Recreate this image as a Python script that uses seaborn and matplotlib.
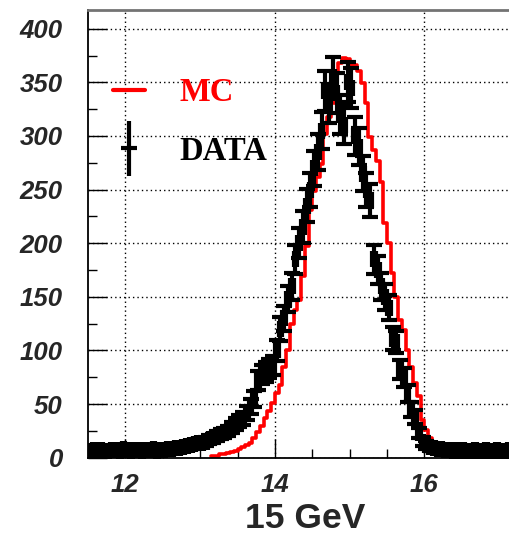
import numpy as np
import pandas as pd
import seaborn as sns
import matplotlib.pyplot as plt
from matplotlib.lines import Line2D
from matplotlib.container import ErrorbarContainer
from matplotlib.legend_handler import HandlerErrorbar
from matplotlib.ticker import MultipleLocator

# binning (GeV)
bin_width = 0.05
data_start = 11.5
mc_start = 13.15

# DATA counts, one per 0.05 GeV bin starting at 11.5
data_counts = [
    6, 7, 6, 7, 6, 6, 7, 7, 6, 8, 7, 6, 7, 7, 6, 7, 7, 8, 6, 7,
    7, 8, 8, 9, 9, 10, 11, 12, 13, 14,
    14, 15, 17, 18, 20, 22, 23, 25, 28, 31,
    34, 37, 42, 48, 55, 72, 78, 80, 83, 86,
    100, 120, 130, 148, 160, 185, 200, 215, 235, 250,
    270, 285, 305, 342, 330, 355, 340, 320, 310, 350,
    345, 300, 290, 265, 250, 240, 185, 175, 160, 150,
    140, 111, 108, 82, 75, 60, 45, 38, 23, 15,
    12, 10, 9, 8, 8, 7, 7, 6, 7, 6,
    7, 6, 6, 7, 6, 6, 7, 6, 6, 7,
    6, 6, 7, 6, 6, 6, 7, 6, 6, 6,
]

# MC counts, one per 0.05 GeV bin starting at 13.15
mc_counts = [
    2, 2, 3, 3, 4, 5, 6, 8, 10, 12,
    14, 18, 24, 30, 37, 44, 51, 60, 68, 85,
    100, 125, 138, 147, 169, 197, 231, 249, 262, 274,
    302, 318, 331, 361, 368, 373, 372, 366, 366, 361,
    349, 331, 299, 287, 277, 257, 219, 200, 172, 150,
    128, 119, 100, 85, 70, 58, 35, 26, 18, 15,
    12, 10, 8, 7, 6, 6, 5, 5, 5, 5,
    5, 4, 4, 4, 4, 4, 4, 4, 3, 3, 3, 3, 3, 3, 3, 3, 3,
]

xlabel = "15 GeV"
labels = ["MC", "DATA"]

data_counts = np.array(data_counts, dtype=float)
mc_counts = np.array(mc_counts, dtype=float)
data_x = data_start + bin_width * (np.arange(len(data_counts)) + 0.5)
mc_x = mc_start + bin_width * (np.arange(len(mc_counts)) + 0.5)
mc = pd.DataFrame({"energy": mc_x, "count": mc_counts})

sns.set_style("white")
plt.rcParams["font.family"] = ["Liberation Sans", "DejaVu Sans"]

fig = plt.figure(figsize=(5.09, 5.38), dpi=100)
ax = fig.add_axes([88 / 509, 80.3 / 538, 448.5 / 509, 447.7 / 538])

sns.histplot(data=mc, x="energy", weights="count", binwidth=bin_width,
             binrange=(mc_start, mc_start + bin_width * len(mc_counts)),
             element="step", fill=False, color="red", linewidth=2.6, ax=ax)

ax.errorbar(data_x, data_counts, yerr=np.sqrt(data_counts), xerr=bin_width / 2,
            fmt="none", ecolor="black", elinewidth=3, capsize=5.8, capthick=3,
            zorder=3)

ax.set_xlim(11.5, 17.5)
ax.set_ylim(0, 417.5)

ax.xaxis.set_major_locator(MultipleLocator(2))
ax.xaxis.set_minor_locator(MultipleLocator(0.5))
ax.yaxis.set_major_locator(MultipleLocator(50))
ax.yaxis.set_minor_locator(MultipleLocator(25))
ax.tick_params(which="both", direction="in", color="black", width=1,
               top=False, right=False, bottom=True, left=True)
ax.tick_params(which="major", length=14)
ax.tick_params(which="minor", length=6.5)
ax.tick_params(axis="y", which="major", pad=18)
ax.tick_params(axis="x", which="major", pad=11)
for lab in ax.get_xticklabels() + ax.get_yticklabels():
    lab.set_fontsize(18.5)
    lab.set_fontweight("bold")
    lab.set_fontstyle("italic")

ax.grid(True, which="major", color="black", linestyle=(0, (1, 2.2)), linewidth=1)

for side in ["left", "bottom"]:
    ax.spines[side].set_color("black")
    ax.spines[side].set_linewidth(1.3)
ax.spines["top"].set_color("0.45")
ax.spines["top"].set_linewidth(2)

ax.set_ylabel("")
ax.set_xlabel(xlabel, fontsize=25.5, fontweight="bold")
ax.xaxis.set_label_coords(0.484, -0.098)

# legend
mc_handle = Line2D([], [], color="red", linewidth=3)
pl = ax.errorbar([np.nan], [np.nan], xerr=[1], yerr=[1], fmt="none",
                 ecolor="black", elinewidth=3)
leg = ax.legend([mc_handle, pl], labels, loc="upper left",
                bbox_to_anchor=(0.055, 0.85), frameon=False,
                prop={"family": "Liberation Serif", "weight": "bold", "size": 23.5},
                handlelength=1.0, handletextpad=1.05, labelspacing=0.85,
                borderpad=0, borderaxespad=0,
                handler_map={ErrorbarContainer: HandlerErrorbar(xerr_size=0.25, yerr_size=0.85)})
leg.get_texts()[0].set_color("red")
leg.get_texts()[1].set_color("black")

fig.savefig("out.png", dpi=100)
